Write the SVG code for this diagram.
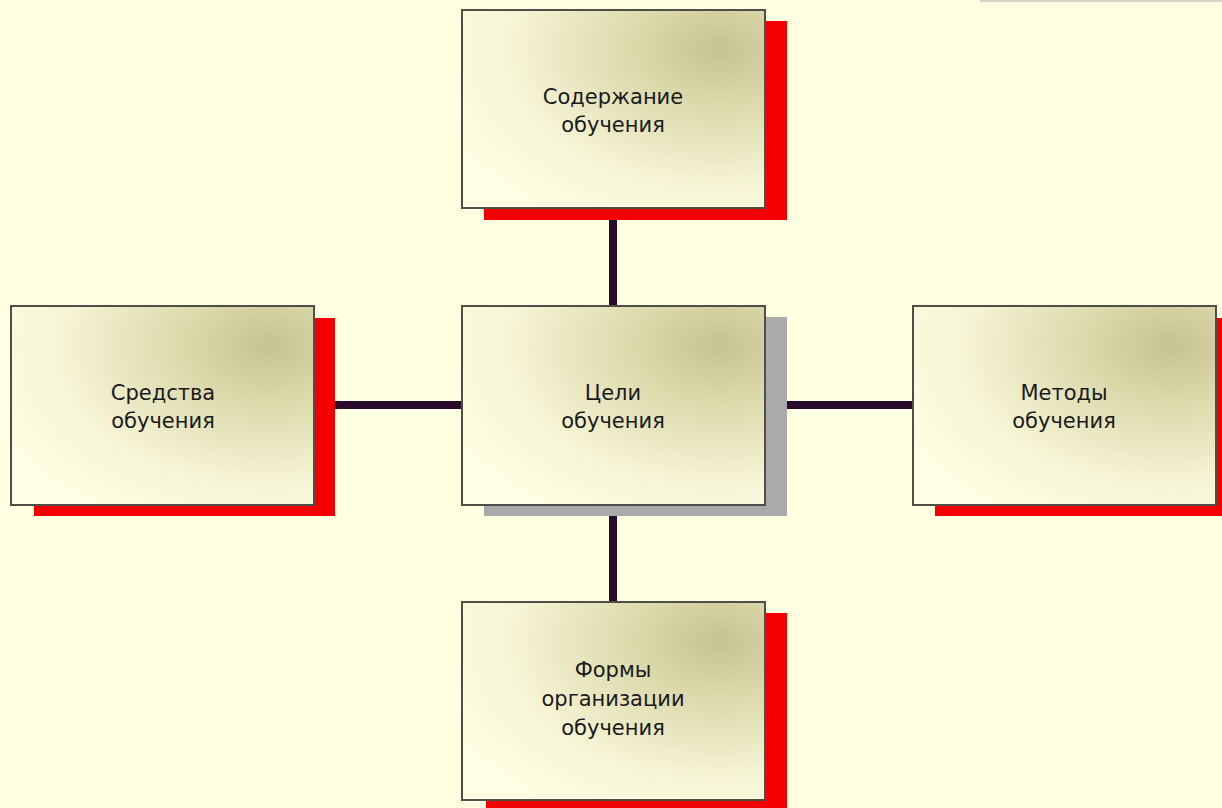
<svg xmlns="http://www.w3.org/2000/svg" width="1222" height="808" viewBox="0 0 1222 808">
<defs>
<radialGradient id="boxfill" cx="0.85" cy="0.2" r="1.0" fx="0.85" fy="0.2">
<stop offset="0" stop-color="#c7c291"/>
<stop offset="0.3" stop-color="#dddaad"/>
<stop offset="0.7" stop-color="#f6f5d6"/>
<stop offset="1" stop-color="#fefee4"/>
</radialGradient>
<style>
.box{fill:url(#boxfill);stroke:#4f4f48;stroke-width:2}
.red{fill:#f40000}
.grey{fill:#aaaaaa}
.lbl{font-family:"DejaVu Sans",Verdana,sans-serif;font-size:21px;fill:#1a1a1a;text-anchor:middle}
.conn{stroke:#2a0a2a;stroke-width:8;fill:none}
</style>
</defs>
<rect x="0" y="0" width="1222" height="808" fill="#fefee0"/>
<line x1="980" y1="1" x2="1222" y2="1" stroke="#d4d4c4" stroke-width="2"/>
<g id="connectors">
<line class="conn" x1="613" y1="212" x2="613" y2="308"/>
<line class="conn" x1="613" y1="510" x2="613" y2="604"/>
<line class="conn" x1="330" y1="405" x2="464" y2="405"/>
<line class="conn" x1="782" y1="405" x2="915" y2="405"/>
</g>
<g id="top">
<rect class="red" x="484" y="21" width="303" height="199"/>
<rect class="box" x="462" y="10" width="303" height="198"/>
<text class="lbl" x="613" y="104">Содержание</text>
<text class="lbl" x="613" y="132">обучения</text>
</g>
<g id="center">
<rect class="grey" x="484" y="317" width="303" height="199"/>
<rect class="box" x="462" y="306" width="303" height="199"/>
<text class="lbl" x="613" y="400">Цели</text>
<text class="lbl" x="613" y="428">обучения</text>
</g>
<g id="left">
<rect class="red" x="34" y="318" width="301" height="198"/>
<rect class="box" x="11" y="306" width="303" height="199"/>
<text class="lbl" x="163" y="400">Средства</text>
<text class="lbl" x="163" y="428">обучения</text>
</g>
<g id="right">
<rect class="red" x="935" y="318" width="300" height="198"/>
<rect class="box" x="913" y="306" width="303" height="199"/>
<text class="lbl" x="1064" y="400">Методы</text>
<text class="lbl" x="1064" y="428">обучения</text>
</g>
<g id="bottom">
<rect class="red" x="486" y="613" width="301" height="200"/>
<rect class="box" x="462" y="602" width="303" height="198"/>
<text class="lbl" x="613" y="677">Формы</text>
<text class="lbl" x="613" y="706">организации</text>
<text class="lbl" x="613" y="735">обучения</text>
</g>
</svg>
